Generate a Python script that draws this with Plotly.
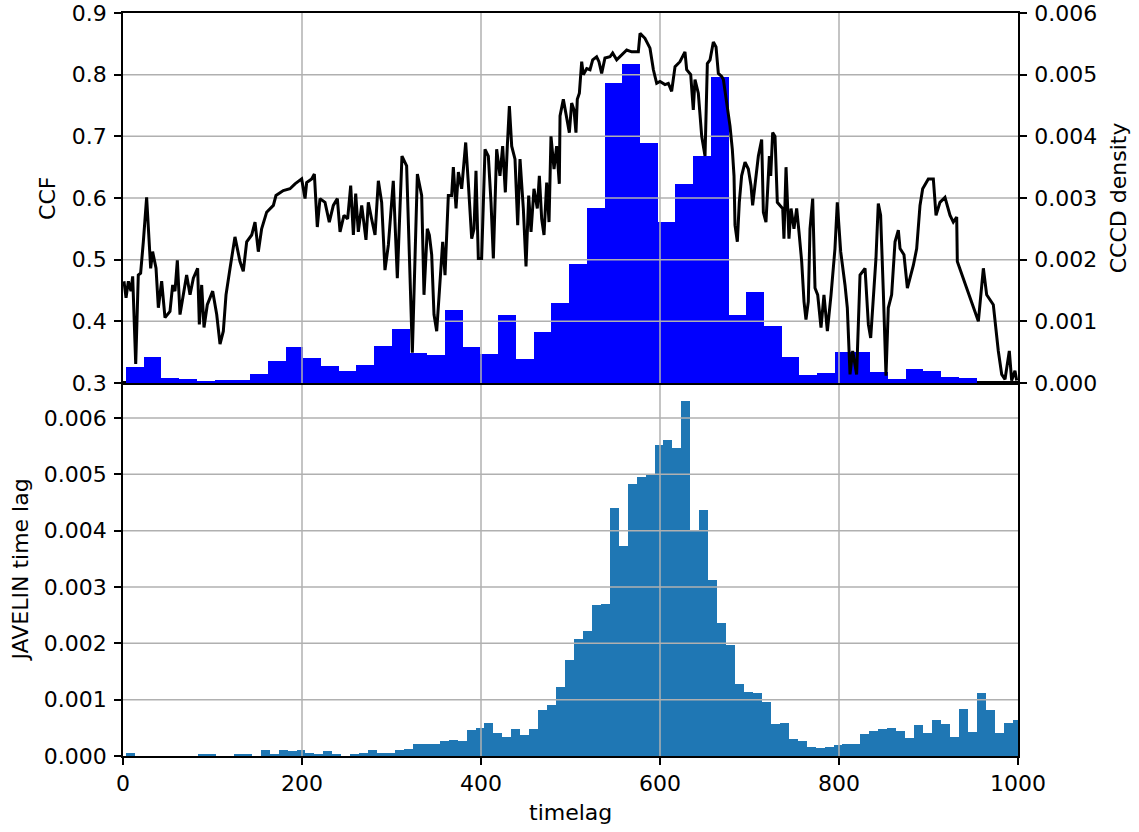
import numpy as np
import plotly.graph_objects as go

# ---------------- data ----------------
# CCF curve (black line, top panel, left axis)
ccf_lag_a = [1.1, 3.4, 6.0, 8.9, 10.8, 14.2, 17.1, 19.7, 22.7, 26.4, 30.9, 33.1, 36.9, 39.5, 43.2,
             46.9, 52.5, 55.5, 58.1, 60.7, 63.7, 67.4, 71.1, 74.9, 78.6, 83.4, 85.3, 87.9, 90.5, 94.2,
             100.2, 104.7, 108.4, 112.1, 115.1, 119.6, 125.1, 130.7, 134.4, 138.2, 143.8, 147.5, 151.2,
             154.9, 160.5, 168.0, 170.9, 179.1, 186.6, 192.2, 199.6, 203.4, 205.2, 210.8, 213.8, 217.1,
             220.1, 225.7, 230.5, 235.0, 239.5, 242.5, 246.9, 251.0, 254.4, 257.4, 260.0, 262.9, 266.7,
             271.5, 274.1, 277.8, 281.6, 285.3, 289.0, 292.7, 296.5, 302.0, 306.5, 311.7, 316.9, 323.3,
             328.9, 333.7, 336.3, 340.0]
ccf_val_a = [0.465, 0.438, 0.465, 0.449, 0.473, 0.331, 0.475, 0.478, 0.529, 0.601, 0.486, 0.513, 0.486,
             0.422, 0.465, 0.406, 0.416, 0.459, 0.449, 0.499, 0.411, 0.443, 0.475, 0.443, 0.470, 0.486,
             0.395, 0.459, 0.390, 0.427, 0.449, 0.411, 0.363, 0.384, 0.443, 0.486, 0.537, 0.497, 0.481,
             0.529, 0.540, 0.561, 0.513, 0.550, 0.577, 0.588, 0.604, 0.612, 0.615, 0.623, 0.631, 0.599,
             0.625, 0.631, 0.639, 0.553, 0.599, 0.593, 0.561, 0.588, 0.599, 0.545, 0.572, 0.566, 0.620,
             0.540, 0.607, 0.545, 0.588, 0.532, 0.593, 0.566, 0.540, 0.628, 0.593, 0.483, 0.524, 0.628,
             0.470, 0.668, 0.652, 0.349, 0.639, 0.604, 0.443, 0.550]

ccf_lag_b = [342.3, 344.9, 347.5, 350.5, 353.4, 357.2, 359.8, 363.5, 367.2, 369.1, 372.1, 374.7, 378.4,
             382.9, 385.8, 389.6, 392.2, 394.4, 397.0, 400.7, 404.5, 408.2, 411.2, 413.8, 417.5, 421.2,
             424.2, 427.2, 429.4, 431.7, 434.3, 438.0, 441.0, 443.6, 447.3, 450.3, 453.3, 455.9, 459.2,
             462.9, 465.2, 467.8, 470.4, 473.4, 476.0, 478.2, 481.6, 484.5, 487.5, 488.3, 492.0, 495.7,
             498.7, 501.3, 503.9, 506.1, 507.6, 509.9, 512.5, 514.3, 518.1, 521.8, 524.8, 529.2, 531.8,
             534.8, 538.5, 544.1, 547.1, 551.6, 559.0, 562.8, 568.3, 575.8, 577.7, 583.2, 588.8, 592.6,
             596.3, 600.0, 605.6, 609.3, 613.0, 616.8, 622.3, 627.9, 629.8, 634.3, 637.2, 639.1, 642.8,
             646.6, 650.3, 652.9, 655.9, 659.6, 662.6, 665.2, 668.9]
ccf_val_b = [0.540, 0.508, 0.411, 0.384, 0.443, 0.529, 0.475, 0.604, 0.604, 0.650, 0.583, 0.642, 0.615,
             0.690, 0.625, 0.534, 0.550, 0.644, 0.502, 0.502, 0.679, 0.668, 0.593, 0.502, 0.679, 0.636,
             0.684, 0.609, 0.684, 0.749, 0.684, 0.663, 0.556, 0.663, 0.583, 0.489, 0.604, 0.545, 0.615,
             0.583, 0.636, 0.566, 0.540, 0.625, 0.561, 0.700, 0.647, 0.684, 0.623, 0.733, 0.760, 0.727,
             0.706, 0.754, 0.743, 0.706, 0.760, 0.770, 0.821, 0.800, 0.810, 0.808, 0.824, 0.829, 0.821,
             0.802, 0.827, 0.829, 0.835, 0.824, 0.835, 0.840, 0.837, 0.837, 0.867, 0.859, 0.843, 0.808,
             0.786, 0.789, 0.784, 0.786, 0.773, 0.813, 0.821, 0.837, 0.808, 0.800, 0.743, 0.792, 0.770,
             0.700, 0.668, 0.818, 0.824, 0.853, 0.845, 0.802, 0.797]

ccf_lag_c = [670.8, 678.2, 680.8, 682.7, 683.8, 686.4, 688.6, 691.2, 695.0, 698.7, 701.7, 703.5, 706.1,
             709.9, 713.6, 715.5, 718.4, 722.2, 723.7, 725.9, 728.5, 731.1, 734.1, 737.1, 738.5, 740.8,
             744.1, 746.4, 749.7, 752.7, 755.3, 758.3, 760.9, 763.1, 765.7, 767.6, 770.6, 773.2, 776.2,
             779.9, 783.2, 787.0, 791.1, 795.5, 798.1, 801.9, 806.7, 809.3, 812.3, 815.3, 819.7, 823.5,
             829.1, 832.8, 835.4, 838.4, 841.3, 843.9, 846.5, 849.5, 852.5, 855.1, 858.8, 862.6, 866.3,
             868.2, 872.6, 876.4, 880.1, 883.1, 886.8, 890.5, 893.5, 899.8, 905.4, 908.4, 912.8, 918.4,
             924.0, 927.7, 931.5, 932.2, 942.6, 955.7, 961.3, 965.0, 972.4, 978.0, 981.8, 985.5, 990.3,
             992.9, 996.6, 998.5]
ccf_val_c = [0.792, 0.717, 0.679, 0.636, 0.556, 0.529, 0.593, 0.636, 0.658, 0.647, 0.620, 0.588, 0.620,
             0.668, 0.695, 0.577, 0.561, 0.668, 0.636, 0.706, 0.700, 0.593, 0.588, 0.583, 0.534, 0.650,
             0.534, 0.583, 0.550, 0.583, 0.545, 0.497, 0.432, 0.403, 0.432, 0.550, 0.599, 0.454, 0.443,
             0.390, 0.443, 0.384, 0.443, 0.518, 0.593, 0.513, 0.459, 0.422, 0.314, 0.352, 0.314, 0.475,
             0.486, 0.395, 0.373, 0.438, 0.502, 0.591, 0.572, 0.449, 0.312, 0.422, 0.443, 0.529, 0.548,
             0.518, 0.508, 0.454, 0.475, 0.491, 0.518, 0.588, 0.615, 0.631, 0.631, 0.572, 0.593, 0.601,
             0.572, 0.561, 0.569, 0.497, 0.454, 0.400, 0.486, 0.443, 0.427, 0.352, 0.314, 0.306, 0.352,
             0.304, 0.320, 0.304]

# CCCD density histogram (blue bars, top panel, right axis)
cccd_bin_start = 3.4
cccd_bin_width = 19.8
cccd_density = [0.00026, 0.00043, 0.00008, 0.00006, 0.00003, 0.00005, 0.00005, 0.00014, 0.00035, 0.00058,
                0.00040, 0.00027, 0.00020, 0.00029, 0.00060, 0.00087, 0.00049, 0.00045, 0.00119, 0.00058,
                0.00047, 0.00111, 0.00039, 0.00082, 0.00129, 0.00193, 0.00283, 0.00486, 0.00518, 0.00389,
                0.00261, 0.00322, 0.00368, 0.00497, 0.00111, 0.00148, 0.00092, 0.00043, 0.00013, 0.00016,
                0.00051, 0.00050, 0.00018, 0.00006, 0.00022, 0.00019, 0.00010, 0.00008, 0.0, 0.0]

# JAVELIN time-lag histogram (bottom panel)
jav_bin_start = 3.9
jav_bin_width = 10.0
jav_density = [0.00005, 0, 0, 0, 0, 0, 0, 0, 0.00002, 0.00002,
               0, 0, 0.00002, 0.00002, 0, 0.00010, 0.00002, 0.00010, 0.00008, 0.00010,
               0.00006, 0.00004, 0.00008, 0.00004, 0, 0.00002, 0.00006, 0.00010, 0.00006, 0.00006,
               0.00010, 0.00012, 0.00022, 0.00022, 0.00022, 0.00026, 0.00028, 0.00026, 0.00046, 0.00050,
               0.00059, 0.00041, 0.00034, 0.00048, 0.00037, 0.00048, 0.00082, 0.00091, 0.00123, 0.00170,
               0.00208, 0.00222, 0.00268, 0.00270, 0.00440, 0.00373, 0.00483, 0.00496, 0.00499, 0.00552,
               0.00561, 0.00547, 0.00630, 0.00400, 0.00437, 0.00313, 0.00236, 0.00197, 0.00128, 0.00114,
               0.00112, 0.00096, 0.00057, 0.00059, 0.00030, 0.00027, 0.00016, 0.00014, 0.00016, 0.00020,
               0.00021, 0.00021, 0.00039, 0.00044, 0.00048, 0.00050, 0.00044, 0.00032, 0.00055, 0.00041,
               0.00064, 0.00057, 0.00034, 0.00083, 0.00043, 0.00112, 0.00082, 0.00041, 0.00059, 0.00064]

x_ticks = [0, 200, 400, 600, 800, 1000]
ccf_ticks = [0.3, 0.4, 0.5, 0.6, 0.7, 0.8, 0.9]
dens_ticks = [0.0, 0.001, 0.002, 0.003, 0.004, 0.005, 0.006]

# ---------------- figure ----------------
ccf_lag = ccf_lag_a + ccf_lag_b + ccf_lag_c
ccf_val = ccf_val_a + ccf_val_b + ccf_val_c
cccd_x = cccd_bin_start + cccd_bin_width * (np.arange(len(cccd_density)) + 0.5)
jav_x = jav_bin_start + jav_bin_width * (np.arange(len(jav_density)) + 0.5)

FONT = "DejaVu Sans"
FS = 22
GRID = "#b0b0b0"
X_RANGE = [0, 1000]
TOP_DENS_RANGE = [0, 0.006]
CCF_RANGE = [0.3, 0.9]
BOT_RANGE = [0, 0.00662]
SPLIT = 0.502  # boundary between the two panels (paper fraction)


def grid_trace(xaxis, yaxis, xs, ys, xr, yr):
    """Grid lines (drawn between bars and the CCF line, as in the reference)."""
    gx, gy = [], []
    for v in xs:
        gx += [v, v, None]
        gy += [yr[0], yr[1], None]
    for v in ys:
        gx += [xr[0], xr[1], None]
        gy += [v, v, None]
    return go.Scatter(x=gx, y=gy, mode="lines", line=dict(color=GRID, width=1.5),
                      xaxis=xaxis, yaxis=yaxis, hoverinfo="skip", showlegend=False)


fig = go.Figure()
# top panel: bars on base axis y2 (right side), grid, then CCF line on overlay y3 (left side)
fig.add_trace(go.Bar(x=cccd_x, y=cccd_density, width=cccd_bin_width,
                     marker=dict(color="#0000ff", line=dict(width=0)),
                     xaxis="x2", yaxis="y2", showlegend=False, name="CCCD"))
fig.add_trace(grid_trace("x2", "y2", x_ticks[1:-1], dens_ticks[1:-1], X_RANGE, TOP_DENS_RANGE))
fig.add_trace(go.Scatter(x=ccf_lag, y=ccf_val, mode="lines", line=dict(color="black", width=3),
                         xaxis="x2", yaxis="y3", showlegend=False, name="CCF"))
# bottom panel
fig.add_trace(go.Bar(x=jav_x, y=jav_density, width=jav_bin_width,
                     marker=dict(color="#1f77b4", line=dict(width=0)),
                     xaxis="x", yaxis="y", showlegend=False, name="JAVELIN"))
fig.add_trace(grid_trace("x", "y", x_ticks[1:-1], dens_ticks[1:], X_RANGE, BOT_RANGE))

axis_common = dict(showline=True, linecolor="black", linewidth=1.5, ticks="outside", ticklen=7,
                   tickwidth=1.5, tickcolor="black", showgrid=False, zeroline=False,
                   ticklabeloverflow="allow", automargin=False,
                   tickfont=dict(family=FONT, size=FS, color="black"))

fig.update_layout(
    width=1139, height=832,
    margin=dict(l=123, r=121, t=13, b=76, autoexpand=False),
    paper_bgcolor="white", plot_bgcolor="white",
    bargap=0,
    font=dict(family=FONT, size=FS, color="black"),
    xaxis=dict(domain=[0, 1], anchor="y", range=X_RANGE, tickvals=x_ticks, mirror=True, **axis_common),
    xaxis2=dict(domain=[0, 1], anchor="y2", range=X_RANGE, matches="x", showticklabels=False,
                showline=True, linecolor="black", linewidth=1.5, mirror=True, ticks="", showgrid=False,
                zeroline=False, automargin=False),
    yaxis=dict(domain=[0, SPLIT], anchor="x", range=BOT_RANGE, tickvals=dens_ticks, tickformat=".3f",
               mirror=True, ticklabelstandoff=3, **axis_common),
    yaxis2=dict(domain=[SPLIT, 1], anchor="x2", side="right", range=TOP_DENS_RANGE, tickvals=dens_ticks,
                tickformat=".3f", ticklabelstandoff=3, **axis_common),
    yaxis3=dict(overlaying="y2", anchor="x2", side="left", range=CCF_RANGE, tickvals=ccf_ticks,
                tickformat=".1f", ticklabelstandoff=3, **axis_common),
)

# axis titles
ann = dict(showarrow=False, xref="paper", yref="paper", font=dict(family=FONT, size=FS, color="black"))
fig.add_annotation(text="CCF", x=-0.085, y=0.751, textangle=-90, xanchor="center", yanchor="middle", **ann)
fig.add_annotation(text="CCCD density", x=1.112, y=0.751, textangle=-90, xanchor="center", yanchor="middle", **ann)
fig.add_annotation(text="JAVELIN time lag", x=-0.114, y=0.251, textangle=-90, xanchor="center", yanchor="middle", **ann)
fig.add_annotation(text="timelag", x=0.5, y=-0.0767, xanchor="center", yanchor="middle", **ann)

fig.write_html("out.html")
